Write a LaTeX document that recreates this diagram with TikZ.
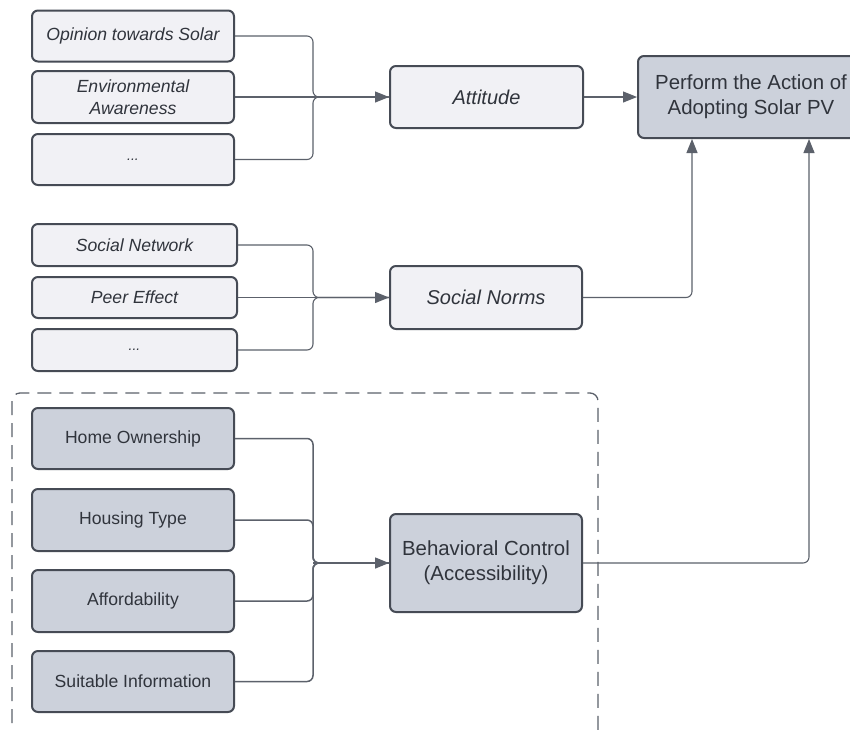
\documentclass[tikz,border=0pt]{standalone}
\usepackage{fontspec}
\setmainfont{Liberation Sans}
\usetikzlibrary{arrows.meta}
\definecolor{bord}{HTML}{464B55}
\definecolor{lfill}{HTML}{F1F1F5}
\definecolor{dfill}{HTML}{CCD1DB}
\definecolor{linec}{HTML}{5C616B}
\definecolor{txtc}{HTML}{30343C}
\begin{document}
\begin{tikzpicture}[x=1pt,y=-1pt,
  basebox/.style={draw=bord, line width=2pt, rounded corners=6pt, inner sep=0pt, text=txtc, align=center},
  lbox/.style={basebox, fill=lfill, font=\fontsize{17.6}{22}\selectfont\itshape},
  bigl/.style={basebox, fill=lfill, font=\fontsize{20}{24}\selectfont\itshape},
  dbox/.style={basebox, fill=dfill, font=\fontsize{17.6}{22}\selectfont},
  bigd/.style={basebox, fill=dfill, font=\fontsize{20.4}{25}\selectfont},
  conn/.style={draw=linec, line width=1.1pt, rounded corners=6pt},
  connb/.style={draw=linec, line width=1.5pt, rounded corners=6pt},
  tip/.style={-{Triangle[length=14pt,width=11pt]}}
]
\clip (0,0) rectangle (850,729);
\useasboundingbox (0,0) rectangle (850,729);
\fill[white] (0,0) rectangle (850,729);

% dashed frame
\draw[draw=linec, line width=1.3pt, dash pattern=on 14pt off 8pt, rounded corners=8pt] (12,393) rectangle (598,760);

% top group
\node[lbox, minimum width=202pt, minimum height=51pt] (o1) at (133,36) {Opinion towards Solar};
\node[lbox, minimum width=202pt, minimum height=52pt] (o2) at (133,97) {Environmental\\Awareness};
\node[lbox, minimum width=202pt, minimum height=51pt] (o3) at (133,159.5) {\fontsize{14}{16}\selectfont ...};
\node[bigl, minimum width=193pt, minimum height=62pt] (att) at (486.5,97) {Attitude};
\node[bigd, minimum width=226pt, minimum height=82pt] (perf) at (751,97) {Perform the Action of\\Adopting Solar PV};

% middle group
\node[lbox, minimum width=205pt, minimum height=42pt] (sn) at (134.5,245) {Social Network};
\node[lbox, minimum width=205pt, minimum height=41pt] (pe) at (134.5,297.5) {Peer Effect};
\node[lbox, minimum width=205pt, minimum height=42pt] (o4) at (134.5,350) {\fontsize{14}{16}\selectfont ...};
\node[bigl, minimum width=192pt, minimum height=63pt] (snorm) at (486,297.5) {Social Norms};

% bottom group
\node[dbox, minimum width=202pt, minimum height=61pt] (home) at (133,438.5) {Home Ownership};
\node[dbox, minimum width=202pt, minimum height=62pt] (hous) at (133,520) {Housing Type};
\node[dbox, minimum width=202pt, minimum height=62pt] (aff) at (133,601) {Affordability};
\node[dbox, minimum width=202pt, minimum height=61pt] (suit) at (133,681.5) {Suitable Information};
\node[bigd, minimum width=192pt, minimum height=98pt] (beh) at (486,563) {Behavioral Control\\(Accessibility)};

\coordinate (m1) at (313,97);
\coordinate (m2) at (313,297.5);
\coordinate (m3) at (313,563);

% top connectors
\draw[conn] (o1.east) -| (m1) -- (att.west);
\draw[conn] (o3.east) -| (m1) -- (att.west);
\draw[conn,tip] (o2.east) -- (att.west);
\draw[conn,tip] (att.east) -- (perf.west);

% middle connectors
\draw[conn] (sn.east) -| (m2) -- (snorm.west);
\draw[conn] (o4.east) -| (m2) -- (snorm.west);
\draw[conn,tip] (pe.east) -- (snorm.west);
\draw[conn,tip] (snorm.east) -| ([xshift=-59pt]perf.south);

% bottom connectors
\draw[connb] (home.east) -| (m3) -- (beh.west);
\draw[connb] (hous.east) -| (m3) -- (beh.west);
\draw[connb] (aff.east) -| (m3) -- (beh.west);
\draw[connb] (suit.east) -| (m3) -- (beh.west);
\draw[connb,tip] (m3) -- (beh.west);
\draw[conn,tip] (beh.east) -| ([xshift=58pt]perf.south);
\end{tikzpicture}
\end{document}
